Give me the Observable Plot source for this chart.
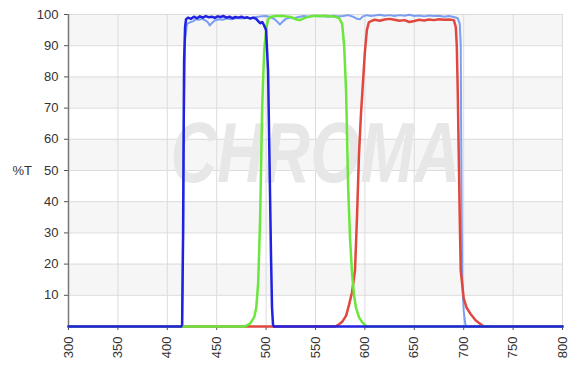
<!DOCTYPE html>
<html>
<head>
<meta charset="utf-8">
<script src="https://cdn.jsdelivr.net/npm/d3@7"></script>
<script src="https://cdn.jsdelivr.net/npm/@observablehq/plot@0.6"></script>
<style>
  html, body { margin: 0; padding: 0; background: #fff; }
  #chart { width: 570px; height: 365px; }
</style>
</head>
<body>
<div id="chart"></div>
<script>
const xTicks = [300, 350, 400, 450, 500, 550, 600, 650, 700, 750, 800];
const yTicks = [10, 20, 30, 40, 50, 60, 70, 80, 90, 100];
const bandStarts = [10, 30, 50, 70, 90];
const watermark = ["CHROMA"];

// [wavelength nm, %T]
const broadBlue = [[300,0],[414,0],[415,0.5],[416,30],[417,70],[418,92],[420,97],[423,97.5],[426,97.8],[429,98.5],[432,98.3],[435,98.6],[438,98.2],[441,97.5],[443,96.5],[445,97.2],[448,98.1],[452,98.5],[456,98.3],[460,98.7],[465,98.5],[470,98.9],[475,98.7],[480,99],[485,98.8],[490,99.2],[495,99.4],[500,99.5],[504,99.2],[508,98.6],[512,97.5],[514,96.8],[517,97.8],[520,98.6],[524,99],[528,98.8],[533,99.2],[538,99.5],[543,99.3],[548,99.6],[553,99.4],[558,99.5],[563,99.3],[568,99.6],[573,99.4],[578,99.5],[583,99.8],[588,99.3],[592,98.6],[595,98.5],[598,99.4],[602,99.8],[606,99.5],[610,99.7],[615,99.9],[620,99.6],[625,99.8],[630,99.5],[635,99.8],[640,99.6],[645,99.9],[650,99.5],[655,99.7],[660,99.4],[665,99.7],[670,99.5],[675,99.6],[680,99.3],[685,99.5],[690,99.2],[694,98.8],[696,97],[697,90],[697.5,60],[698,35],[698.5,15],[700,5],[701.5,1],[702.5,0],[800,0]];

const blue = [[300,0],[414,0],[415,0.5],[416,30],[416.5,60],[417,85],[418,96],[419,98.5],[421,99],[424,98.6],[427,99.3],[430,98.8],[433,99.4],[436,99],[439,99.5],[442,99.1],[445,99.3],[448,98.9],[451,99.4],[454,99.2],[457,99.5],[460,99],[463,99.3],[466,98.8],[469,99.2],[472,99],[475,99.3],[478,98.9],[481,99.1],[484,98.7],[487,99],[490,98.6],[492,97.9],[494,97.2],[496,97.6],[498,96.5],[500,95],[502,82],[503,62],[504,42],[505,22],[506,6],[507,0.5],[508,0],[800,0]];

const green = [[300,0],[478,0],[481,0.4],[484,1],[488,3],[490,6],[492,14],[494,35],[496,70],[498,88],[500,95],[502,98.5],[505,99.3],[510,99.5],[515,99.6],[520,99.4],[525,99.2],[528,98.8],[531,98.4],[534,98.2],[537,98.6],[540,99],[545,99.4],[550,99.6],[555,99.5],[560,99.6],[565,99.4],[570,99.3],[574,98.8],[577,97],[579,90],[581,75],[582,60],[583,45],[585,28],[587,17],[589,10],[591,6],[594,3],[597,1.5],[600,0.5],[602,0],[800,0]];

const red = [[300,0],[570,0],[573,0.5],[577,1.5],[581,3.5],[584,7],[587,11],[590,18],[592,35],[594,55],[596,68],[598,78],[600,88],[602,95],[604,97.5],[607,98],[610,98.3],[615,98],[620,98.4],[625,98.6],[630,98.3],[635,98],[640,98.2],[645,97.6],[650,97.9],[655,98.3],[660,98.1],[665,98.4],[670,98.2],[675,98.5],[680,98.3],[685,98.4],[690,98.2],[692,96],[693,90],[694,75],[695,55],[696,35],[697,18],[700,9],[703,6],[707,4],[712,2],[716,1],[719,0.3],[721,0],[800,0]];

const colors = { broad: "#7b9ef2", blue: "#2121e0", green: "#6ae63c", red: "#e0473f" };

const lineOpts = (c, w) => ({ x: d => d[0], y: d => d[1], stroke: c, strokeWidth: w, strokeLinejoin: "round", strokeLinecap: "round" });

const chart = Plot.plot({
  width: 570,
  height: 365,
  marginLeft: 68,
  marginRight: 8,
  marginTop: 14,
  marginBottom: 39,
  style: { fontFamily: "'Liberation Sans', Arial, sans-serif", fontSize: "13px", color: "#333", background: "#fff" },
  x: { domain: [300, 800] },
  y: { domain: [0, 100] },
  marks: [
    Plot.rectY(bandStarts, { y1: d => d, y2: d => d + 10, fill: "#f6f6f6" }),
    Plot.gridX(xTicks, { stroke: "#dcdcdc", strokeOpacity: 1 }),
    Plot.gridY(yTicks, { stroke: "#dcdcdc", strokeOpacity: 1 }),
    Plot.text(watermark, { frameAnchor: "middle", dx: 0, dy: -16, fontSize: 86, fontWeight: 900, fontStyle: "italic", fill: "#e7e7e7", className: "wm" }),
    Plot.axisY(yTicks, { tickSize: 4, tickPadding: 6, label: null, stroke: "#555" }),
    Plot.ruleX([300], { stroke: "#777", strokeWidth: 1.5 }),
    Plot.axisX(xTicks, { tickSize: 4, tickPadding: 6, tickRotate: -90, label: null, stroke: "#555" }),
    Plot.line(broadBlue, lineOpts(colors.broad, 2)),
    Plot.line(red, lineOpts(colors.red, 2.5)),
    Plot.line(green, lineOpts(colors.green, 2.5)),
    Plot.line(blue, lineOpts(colors.blue, 2.5)),
    Plot.text(["%T"], { frameAnchor: "left", dx: -56, textAnchor: "start", fontSize: 13, fill: "#333" })
  ]
});
document.getElementById("chart").appendChild(chart);
const wm = chart.querySelector(".wm text");
if (wm) { wm.setAttribute("textLength", 290); wm.setAttribute("lengthAdjust", "spacingAndGlyphs"); }
</script>
</body>
</html>
